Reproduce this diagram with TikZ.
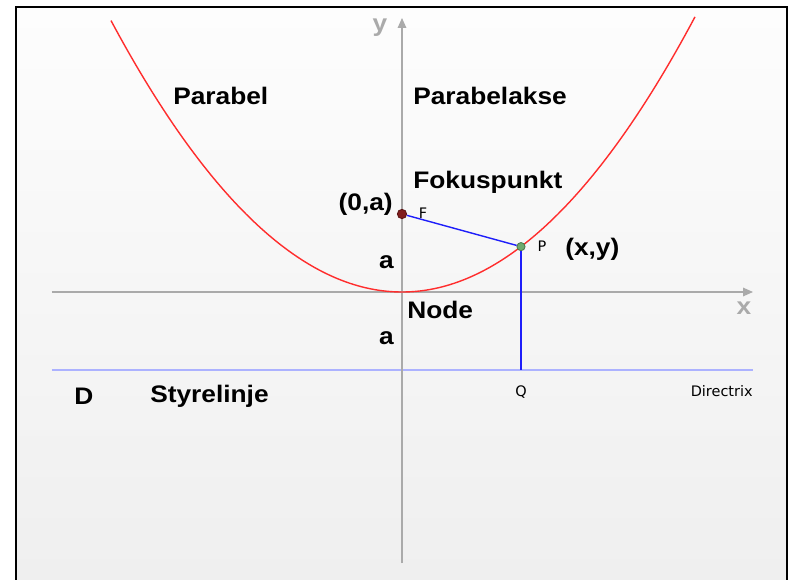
\documentclass[tikz,border=0pt]{standalone}
\usepackage{fontspec}
\usetikzlibrary{arrows.meta,positioning}
\newfontfamily\lblfont[FakeStretch=1.1]{Liberation Sans}
\newfontfamily\smfont{DejaVu Sans}
\definecolor{ax}{RGB}{170,170,170}
\definecolor{pc}{RGB}{255,45,45}
\definecolor{dc}{RGB}{172,178,255}
\definecolor{bc}{RGB}{30,30,250}
\definecolor{fc}{RGB}{130,30,30}
\definecolor{gc}{RGB}{110,170,110}
\definecolor{bgt}{RGB}{253,253,253}
\definecolor{bgb}{RGB}{239,239,239}
\tikzset{lbl/.style={font=\lblfont\bfseries\fontsize{17}{19}\selectfont,inner sep=0pt},
 axl/.style={lbl,text=ax},
 sm/.style={font=\smfont\fontsize{10.3}{12}\selectfont,inner sep=0pt},
 axis/.style={draw=ax,line width=1pt,-{Triangle[length=7pt,width=6pt]}},
 seg/.style={draw=bc,line width=1pt},
 dot/.style={circle,inner sep=0pt,minimum size=6.6pt,line width=.6pt}}

\begin{document}
\begin{tikzpicture}[x=0.025cm,y=0.025cm]
\useasboundingbox (-402,-287) rectangle (387,292);
\shade[top color=bgt,bottom color=bgb] (-386,-287) rectangle (385,285);
\draw[line width=1.4pt] (-386,-290) -- (-386,285) -- (385,285) -- (385,-290);
% axes and directrix
\coordinate (xl) at (-350,0); \coordinate (xr) at (351,0);
\coordinate (yb) at (0,-271); \coordinate (yt) at (0,274);
\coordinate (dl) at (-350,-78); \coordinate (dr) at (351,-78);
\draw[dc,line width=1pt] (dl) -- (dr);
\draw[axis] (xl) -- (xr);
\draw[axis] (yb) -- (yt);
\node[axl] (ylab) at (-22,264) {y};
\node[axl] (xlab) at (342,-16) {x};
% parabola, focus, point
\draw[pc,line width=1pt] plot[domain=-291:293,samples=120,smooth] (\x,{(\x/10)^2/3.12});
\coordinate (Q) at (119,-78);
\node[dot,draw=fc!70!black,fill=fc] (F) at (0,78) {};
\node[dot,draw=gc!70!black,fill=gc,minimum size=5.8pt] (P) at (119,{119^2/312}) {};
\draw[seg] (F) -- (P);
\draw[seg] (P) -- (Q);
\node[sm] (flab) at (21,79) {F};
\node[sm] (plab) at (140,46) {P};
\node[sm] (qlab) at (119,-100) {Q};
\node[sm,anchor=east] (dirlab) at (351,-99) {Directrix};
% labels
\node[lbl,anchor=west] (parabel) at (-229,196) {Parabel};
\node[lbl,anchor=west] (akse) at (11,196) {Parabelakse};
\node[lbl,anchor=west] (fokus) at (11,110) {Fokuspunkt};
\node[lbl,anchor=east] (fkoord) at (-9,88) {(0,a)};
\node[lbl,anchor=west] (pkoord) at (163,43) {(x,y)};
\node[lbl,anchor=east] (a1) at (-8,30) {a};
\node[lbl,anchor=west] (node) at (5,-18) {Node};
\node[lbl,anchor=east] (a2) at (-8,-46) {a};
\node[lbl,anchor=west] (dlab) at (-328,-104) {D};
\node[lbl,anchor=west] (styre) at (-252,-104) {Styrelinje};
\end{tikzpicture}
\end{document}
